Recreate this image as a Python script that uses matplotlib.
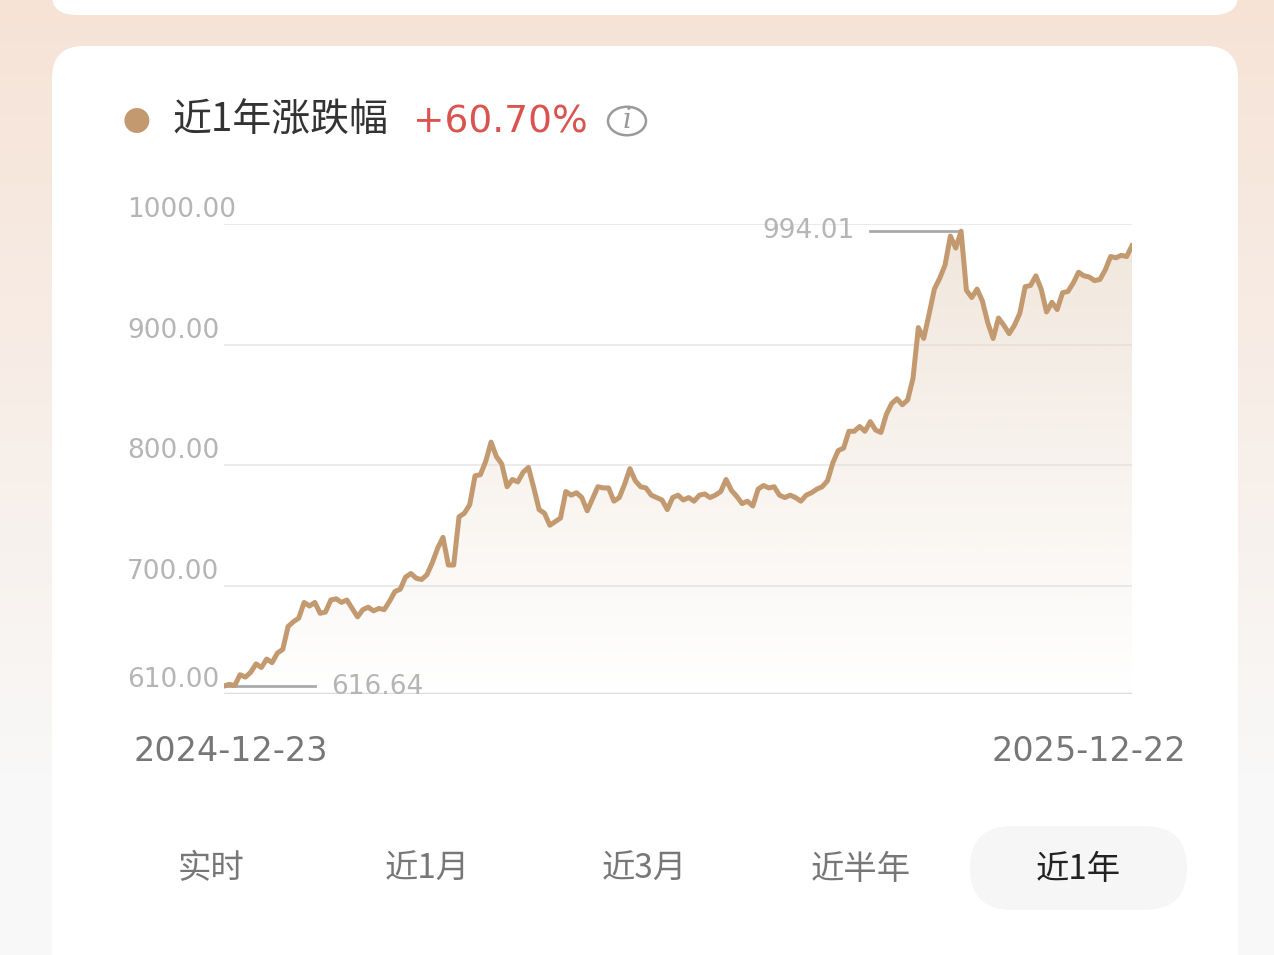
import matplotlib
matplotlib.use("Agg")
import matplotlib.pyplot as plt
import numpy as np
from matplotlib.patches import FancyBboxPatch, Circle, Polygon

plt.rcParams['font.family'] = ['Noto Sans CJK SC', 'DejaVu Sans']

# values (one per sample, roughly evenly spaced in time)
prices = [616.64, 618, 617, 626, 624, 628, 635, 632, 639, 636, 644, 647, 666, 670, 673,
          686, 683, 686, 677, 678, 688, 689, 686, 688, 681, 674, 680, 682, 679, 681,
          680, 687, 695, 697, 707, 710, 706, 705, 709, 719, 731, 740, 717, 717, 757,
          760, 767, 791, 792, 803, 819, 807, 801, 782, 788, 786, 794, 798, 781, 763,
          760, 750, 753, 756, 778, 775, 777, 773, 762, 772, 782, 781, 781, 770, 773,
          784, 797, 787, 782, 781, 775, 773, 771, 763, 773, 775, 771, 773, 770, 775,
          776, 773, 775, 778, 788, 779, 774, 768, 770, 766, 780, 783, 781, 782, 775,
          773, 775, 773, 770, 775, 777, 780, 782, 787, 802, 812, 814, 828, 828, 832,
          828, 836, 829, 827, 842, 851, 855, 850, 854, 872, 914, 905, 925, 946, 955,
          966, 990, 980, 994.01, 945, 939, 946, 936, 918, 905, 922, 916, 909, 916, 926,
          948, 949, 957, 946, 927, 935, 929, 943, 944, 951, 960, 957, 956, 953, 954,
          962, 973, 972, 974, 973, 982]
start_date = "2024-12-23"
end_date = "2025-12-22"
y_ticks = [610, 700, 800, 900, 1000]
title = "近1年涨跌幅"
change = "+60.70%"
tabs = ["实时", "近1月", "近3月", "近半年", "近1年"]

W, H = 1274, 955
fig = plt.figure(figsize=(W / 100, H / 100), dpi=100)
num_font = 'DejaVu Sans'

def fx(x):
    return x / W

def fy(y):
    return 1 - y / H

# background gradient
bg = fig.add_axes([0, 0, 1, 1])
bg.set_axis_off()
gy = np.linspace(0, 1, 200)
GX, GY = np.meshgrid(np.linspace(0, 1, 200), gy)
c_top = np.array([0.965, 0.89, 0.84])
c_bot = np.array([0.975, 0.975, 0.975])
t = np.clip(GY * 1.2, 0, 1)[..., None]
img = c_top * (1 - t) + c_bot * t
bg.imshow(img, extent=[0, 1, 0, 1], aspect='auto', origin='upper')
bg.set_xlim(0, 1)
bg.set_ylim(0, 1)
bg.add_patch(FancyBboxPatch((fx(52), fy(15)), fx(1238 - 52), 0.1, boxstyle="round,pad=0,rounding_size=0.02",
                            fc='white', ec='none', transform=bg.transAxes))
bg.add_patch(FancyBboxPatch((fx(52), -0.1), fx(1238 - 52), fy(46) + 0.1, boxstyle="round,pad=0,rounding_size=0.025",
                            fc='white', ec='none', transform=bg.transAxes, mutation_aspect=W / H))
# tab highlight
bg.add_patch(FancyBboxPatch((fx(970), fy(910)), fx(1187 - 970), (910 - 826) / H,
                            boxstyle="round,pad=0,rounding_size=0.033", fc='#f6f6f6', ec='none',
                            transform=bg.transAxes, mutation_aspect=W / H))

# header
fig.text(fx(136), fy(123), "●", color='#c39a6f', fontsize=20, ha='center', va='center')
fig.text(fx(172), fy(121), title, color='#333333', fontsize=28, ha='left', va='center')
fig.text(fx(413), fy(122), change, color='#d9534f', fontsize=27, ha='left', va='center', family=num_font)
bg.add_patch(Circle((fx(627), fy(121)), fx(19), fill=False, ec='#9a9a9a', lw=1.8,
                    transform=bg.transAxes))
fig.text(fx(627), fy(121), "i", color='#9a9a9a', fontsize=20, style='italic', ha='center', va='center',
         family='DejaVu Serif')

# chart
ax = fig.add_axes([fx(224), fy(694), fx(1132 - 224), (694 - 224) / H])
x = np.arange(len(prices))
ax.set_xlim(0, len(prices) - 1)
ax.set_ylim(610, 1000)
ax.set_axis_off()
for v in y_ticks[1:]:
    ax.axhline(v, color='#e8e8e8', lw=1.2, zorder=0)
ax.axhline(610, color='#dddddd', lw=2.5, zorder=0)
for v in y_ticks:
    ypix = ax.transData.transform((0, v))[1]
    off = 14 if v != 610 else 14
    fig.text(fx(127), (ypix + off) / H, f"{v:.2f}", color='#b5b5b5', fontsize=19, ha='left', va='center',
             family=num_font)

# gradient fill under line
grad = np.linspace(1, 0, 256)[:, None]
cols = np.ones((256, 1, 4))
cols[..., 0] = 0.92
cols[..., 1] = 0.86
cols[..., 2] = 0.80
cols[..., 3] = grad * 0.7
im = ax.imshow(cols, extent=[0, len(prices) - 1, 610, 1000], aspect='auto', origin='upper', zorder=1)
poly = Polygon(np.column_stack([np.r_[x, x[-1], 0], np.r_[prices, 610, 610]]), closed=True,
               transform=ax.transData, fc='none', ec='none')
ax.add_patch(poly)
im.set_clip_path(poly)
ax.plot(x, prices, color='#c39a6f', lw=3.6, zorder=3, solid_joinstyle='round')

# max / min markers
imax = int(np.argmax(prices))
imin = int(np.argmin(prices))
ax.plot([imax - 17, imax], [prices[imax], prices[imax]], color='#aaaaaa', lw=2, zorder=2)
ax.text(imax - 20, prices[imax], f"{prices[imax]:.2f}", color='#b5b5b5', fontsize=19, ha='right', va='center',
        family=num_font)
ax.plot([imin, imin + 17], [prices[imin], prices[imin]], color='#aaaaaa', lw=2, zorder=2)
ax.text(imin + 20, prices[imin] - 1, f"{prices[imin]:.2f}", color='#b5b5b5', fontsize=19, ha='left', va='center',
        family=num_font)

# dates
fig.text(fx(134), fy(751), start_date, color='#777777', fontsize=24, ha='left', va='center', family=num_font)
fig.text(fx(1186), fy(751), end_date, color='#777777', fontsize=24, ha='right', va='center', family=num_font)

# tabs
tab_x = [211, 427, 644, 861, 1078]
for i, (tx, lab) in enumerate(zip(tab_x, tabs)):
    fig.text(fx(tx), fy(869), lab, color='#222222' if i == 4 else '#777777', fontsize=24,
             ha='center', va='center')

fig.savefig("out.png", dpi=100)
